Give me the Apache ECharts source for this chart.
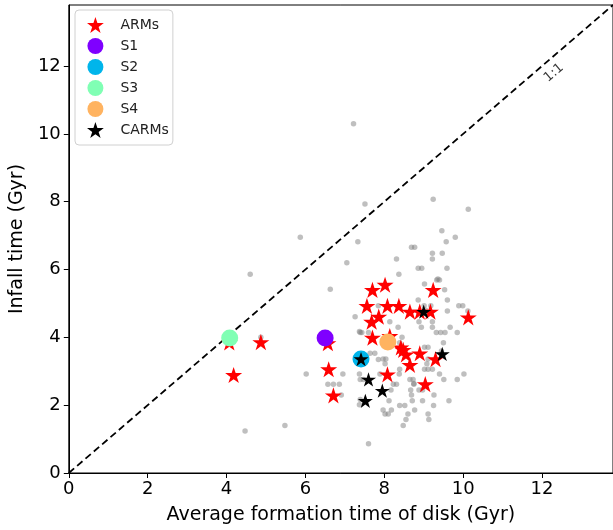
<!DOCTYPE html>
<html>
<head>
<meta charset="utf-8">
<script src="https://cdn.jsdelivr.net/npm/echarts@6/dist/echarts.min.js"></script>
<style>
  html, body { margin: 0; padding: 0; background: #fff; }
  #chart { width: 613px; height: 530px; }
</style>
</head>
<body>
<div id="chart"></div>
<script>
// Axis range (Gyr) and tick labels
const AX_MAX = 13.8;
const xTicks = [0, 2, 4, 6, 8, 10, 12];
const yTicks = [0, 2, 4, 6, 8, 10, 12];

// Full galaxy sample: [average disk formation time, infall time]
const allGalaxies = [
  [7.22,10.30],[7.51,7.93],[9.24,8.07],[10.13,7.78],[9.46,7.14],
  [5.87,6.95],[4.60,5.86],[6.63,5.42],[7.05,6.20],[7.33,6.82],[7.26,4.61],[7.37,4.17],[4.87,4.00],
  [9.80,6.95],[9.57,6.82],[8.69,6.66],[8.77,6.66],[9.22,6.48],[9.47,6.48],[9.22,6.31],[8.31,6.31],
  [8.86,6.04],[8.95,6.04],[9.59,6.04],[8.37,5.86],[9.33,5.69],[9.40,5.69],[9.36,5.72],[9.02,5.57],
  [9.53,5.40],[8.86,5.10],[9.60,5.10],[9.01,4.93],[9.18,4.93],[7.85,4.93],[9.89,4.93],[9.99,4.93],
  [9.60,4.78],[10.12,4.78],[8.14,4.46],[8.88,4.46],[9.22,4.46],[8.94,4.30],[9.22,4.30],[9.67,4.30],
  [8.35,4.30],[9.32,4.14],[9.43,4.14],[9.54,4.14],[9.85,4.14],[7.43,4.14],[7.60,4.14],[7.39,4.14],
  [8.45,4.00],[9.50,3.84],[8.39,3.84],[9.02,3.71],[9.11,3.71],[7.64,3.53],[7.76,3.53],[7.97,3.36],
  [8.04,3.36],[9.11,3.36],[7.85,3.35],[8.02,3.22],[9.08,3.22],[8.39,3.06],[9.02,3.06],[9.11,3.06],
  [9.22,3.06],[7.89,2.92],[8.38,2.92],[9.40,2.92],[10.02,2.92],[9.85,2.76],[9.51,2.76],[7.47,2.76],
  [8.65,2.76],[8.73,2.76],[8.23,2.62],[8.31,2.62],[8.75,2.62],[8.17,2.45],[8.67,2.45],[8.88,2.45],
  [8.97,2.45],[8.69,2.30],[9.26,2.30],[8.12,2.13],[8.71,2.13],[8.97,2.13],[9.64,2.13],[8.39,1.99],
  [8.52,1.99],[9.25,1.99],[7.97,1.86],[8.18,1.86],[8.77,1.86],[8.02,1.74],[8.10,1.74],[8.60,1.74],
  [9.11,1.74],[8.55,1.58],[9.13,1.58],[8.48,1.40],[7.60,0.86],
  [6.02,2.92],[6.95,2.92],[7.37,2.92],[6.57,2.62],[6.71,2.62],[6.86,2.62],[6.91,2.30],[7.37,2.01],
  [5.48,1.40],[4.47,1.24],[7.39,2.76],[7.39,2.17],[9.05,4.80],[9.45,3.60],[8.75,2.64]
];

// ARMs
const arms = [
  [8.02,5.55],[7.70,5.40],[9.24,5.40],[7.56,4.93],[8.08,4.93],[8.37,4.93],[8.65,4.76],[8.90,4.76],
  [9.17,4.76],[10.13,4.59],[7.86,4.61],[7.68,4.46],[7.70,3.99],[6.57,3.83],[8.14,4.04],[8.42,3.70],
  [8.48,3.63],[8.55,3.50],[8.90,3.53],[9.30,3.36],[8.65,3.19],[8.08,2.91],[9.04,2.62],[6.59,3.06],
  [6.71,2.29],[4.18,2.89],[4.87,3.86],[4.07,3.85]
];

// Selected systems S1-S4
const s1 = [[6.50,3.98]];
const s2 = [[7.41,3.36]];
const s3 = [[4.08,3.98]];
const s4 = [[8.09,3.86]];

// CARMs
const carms = [[9.00,4.76],[7.41,3.36],[9.47,3.51],[7.60,2.76],[7.95,2.43],[7.52,2.13]];

// Where the "1:1" annotation sits along the diagonal
const oneToOneLabelAt = [[12.3,11.8]];

// Five-pointed star outline, same proportions as a classic star marker
function starPath() {
  const pts = [];
  for (let i = 0; i < 10; i++) {
    const r = (i % 2) ? 0.382 : 1;
    const a = (-90 + i * 36) * Math.PI / 180;
    pts.push((r * Math.cos(a)).toFixed(4) + ' ' + (r * Math.sin(a)).toFixed(4));
  }
  return 'path://M' + pts.join(' L') + ' Z';
}
const STAR = starPath();

const FONT = 'DejaVu Sans';
const chart = echarts.init(document.getElementById('chart'), null, { renderer: 'canvas' });

function axis(name, ticks, margin, gap) {
  return {
    type: 'value',
    min: 0,
    max: AX_MAX,
    interval: 2,
    name: name,
    nameLocation: 'middle',
    nameGap: gap,
    nameTextStyle: { fontFamily: FONT, fontSize: 19, color: '#000' },
    axisLine: { show: true, onZero: false, lineStyle: { color: '#000', width: 1 } },
    axisTick: { show: true, inside: false, length: 5, lineStyle: { color: '#000', width: 1 }, customValues: ticks },
    axisLabel: { fontFamily: FONT, fontSize: 18, color: '#000', margin: margin, customValues: ticks },
    splitLine: { show: false }
  };
}

chart.setOption({
  animation: false,
  backgroundColor: '#fff',
  grid: {
    left: 67, top: 5, width: 547, height: 468,
    show: true, borderColor: '#000', borderWidth: 1, backgroundColor: 'transparent'
  },
  xAxis: axis('Average formation time of disk (Gyr)', xTicks, 7, 33),
  yAxis: axis('Infall time (Gyr)', yTicks, 8, 41),
  legend: {
    orient: 'vertical',
    left: 75, top: 10,
    padding: [7, 4, 7, 12],
    itemGap: 5,
    itemWidth: 30, itemHeight: 16,
    symbolKeepAspect: true,
    backgroundColor: '#fff',
    borderColor: '#d0d0d0', borderWidth: 1, borderRadius: 4,
    textStyle: { fontFamily: FONT, fontSize: 14, color: '#222', padding: [0, 0, 0, 5] },
    data: [
      { name: 'ARMs', icon: STAR },
      { name: 'S1', icon: 'circle' },
      { name: 'S2', icon: 'circle' },
      { name: 'S3', icon: 'circle' },
      { name: 'S4', icon: 'circle' },
      { name: 'CARMs', icon: STAR }
    ]
  },
  series: [
    {
      type: 'scatter', name: 'all', data: allGalaxies,
      symbol: 'circle', symbolSize: 5.5,
      itemStyle: { color: 'rgba(128,128,128,0.5)', opacity: 1 },
      silent: true, z: 1
    },
    {
      type: 'line', name: 'diag', data: [[0, 0], [AX_MAX, AX_MAX]],
      symbol: 'none', silent: true, z: 2,
      lineStyle: { color: '#000', width: 1.8, type: [7, 4] }
    },
    {
      type: 'scatter', name: 'ARMs', data: arms,
      symbol: STAR, symbolSize: 17, symbolKeepAspect: true,
      itemStyle: { color: '#ff0000', opacity: 1 }, z: 3
    },
    { type: 'scatter', name: 'S1', data: s1, symbol: 'circle', symbolSize: 17, itemStyle: { color: '#7f00ff', opacity: 1 }, z: 4 },
    { type: 'scatter', name: 'S2', data: s2, symbol: 'circle', symbolSize: 17, itemStyle: { color: '#00b5eb', opacity: 1 }, z: 4 },
    { type: 'scatter', name: 'S3', data: s3, symbol: 'circle', symbolSize: 17, itemStyle: { color: '#80ffb4', opacity: 1 }, z: 4 },
    { type: 'scatter', name: 'S4', data: s4, symbol: 'circle', symbolSize: 17, itemStyle: { color: '#ffb360', opacity: 1 }, z: 4 },
    {
      type: 'scatter', name: 'CARMs', data: carms,
      symbol: STAR, symbolSize: 15, symbolKeepAspect: true,
      itemStyle: { color: '#000', opacity: 1 }, z: 5
    },
    {
      type: 'scatter', name: 'note', data: oneToOneLabelAt,
      symbolSize: 0, silent: true, z: 6,
      label: {
        show: true, position: 'inside', formatter: '1:1', rotate: 40.6,
        fontFamily: FONT, fontSize: 13, color: '#000'
      }
    }
  ]
});
</script>
</body>
</html>
